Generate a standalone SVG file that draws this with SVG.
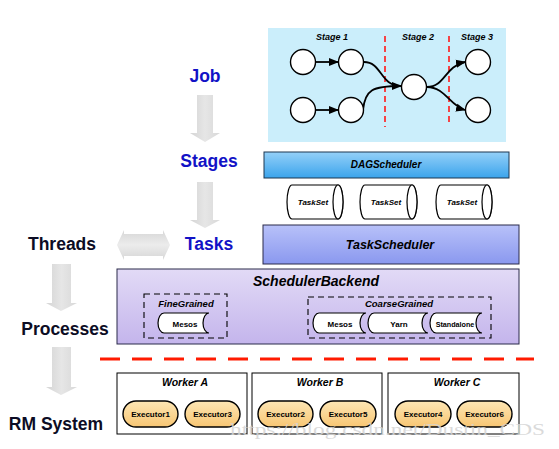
<svg xmlns="http://www.w3.org/2000/svg" width="559" height="449" viewBox="0 0 559 449">
<defs>
<linearGradient id="gDag" x1="0" y1="0" x2="0" y2="1"><stop offset="0" stop-color="#94d0f8"/><stop offset="1" stop-color="#3ba4ec"/></linearGradient>
<linearGradient id="gTs" x1="0" y1="0" x2="0" y2="1"><stop offset="0" stop-color="#b8c1f9"/><stop offset="1" stop-color="#8a98ef"/></linearGradient>
<linearGradient id="gSb" x1="0" y1="0" x2="0" y2="1"><stop offset="0" stop-color="#e2daf6"/><stop offset="1" stop-color="#c4b5ec"/></linearGradient>
<linearGradient id="gEx" x1="0" y1="0" x2="0" y2="1"><stop offset="0" stop-color="#fde6b4"/><stop offset="1" stop-color="#f8c673"/></linearGradient>
<linearGradient id="gAr" x1="0" y1="0" x2="1" y2="0"><stop offset="0" stop-color="#d4d4d4"/><stop offset="0.5" stop-color="#e6e6e6"/><stop offset="1" stop-color="#d8d8d8"/></linearGradient>
<linearGradient id="gArV" x1="0" y1="0" x2="0" y2="1"><stop offset="0" stop-color="#d6d6d6"/><stop offset="0.5" stop-color="#ececec"/><stop offset="1" stop-color="#d6d6d6"/></linearGradient>
<marker id="ah2" viewBox="0 0 10 10" refX="9" refY="5" markerWidth="10" markerHeight="10" orient="auto" markerUnits="userSpaceOnUse"><path d="M0,1 L10,5 L0,9 Z" fill="#000"/></marker>
</defs>
<style>
text{font-family:"Liberation Sans",Arial,sans-serif;font-weight:bold;text-anchor:middle;fill:#000}
.bi{font-style:italic}
.lblue{font-size:17.5px;fill:#1212c6}
.lblack{font-size:17.5px;fill:#0c0c24}
.circ{fill:#fff;stroke:#000;stroke-width:1.4}
.edge{fill:none;stroke:#000;stroke-width:1.8}
.cyl{fill:#fff;stroke:#000;stroke-width:1.2}
.sd{fill:#fff;stroke:#000;stroke-width:1.2}
.dash{fill:none;stroke:#000;stroke-width:1.1;stroke-dasharray:6,4}
.wk{fill:#fff;stroke:#000;stroke-width:1}
.ex{fill:url(#gEx);stroke:#000;stroke-width:1.4}
.garrow{fill:url(#gAr)}
</style>

<!-- left labels -->
<g id="label-job"><text class="lblue" x="205" y="82">Job</text></g>
<g id="label-stages"><text class="lblue" x="209" y="167">Stages</text></g>
<g id="label-tasks"><text class="lblue" x="209" y="250">Tasks</text></g>
<g id="label-threads"><text class="lblack" x="62" y="250">Threads</text></g>
<g id="label-processes"><text class="lblack" x="65" y="335">Processes</text></g>
<g id="label-rm"><text class="lblack" x="56" y="430">RM System</text></g>

<!-- gray block arrows -->
<g id="gray-arrows">
<polygon class="garrow" points="197,95 213,95 213,133 220,133 205,142 190,133 197,133"/>
<polygon class="garrow" points="197,182 213,182 213,220 220,220 205,228 190,220 197,220"/>
<polygon class="garrow" points="52,264 71,264 71,303 77,303 61,311 46,303 52,303"/>
<polygon class="garrow" points="52,347 71,347 71,387 77,387 61,395 46,387 52,387"/>
<polygon fill="url(#gArV)" points="117,245 124,230 124,234 163,234 163,230 170,245 163,260 163,256 124,256 124,260"/>
</g>

<!-- top job/stage panel -->
<g id="stage-panel">
<rect x="268" y="28" width="238" height="114" fill="#cbeefb"/>
<text class="bi" x="332" y="40" font-size="9">Stage 1</text>
<text class="bi" x="418" y="40" font-size="9">Stage 2</text>
<text class="bi" x="477" y="40" font-size="9">Stage 3</text>
<line x1="385" y1="36" x2="385" y2="127" stroke="#ff1a1a" stroke-width="1.6" stroke-dasharray="6,4"/>
<line x1="449" y1="36" x2="449" y2="124" stroke="#ff1a1a" stroke-width="1.6" stroke-dasharray="6,4"/>
</g>
<g id="connectors">
<line class="edge" x1="315.5" y1="62" x2="338" y2="62" marker-end="url(#ah2)"/>
<line class="edge" x1="315.5" y1="110" x2="338" y2="110" marker-end="url(#ah2)"/>
<path class="edge" d="M364,62 C382,62 380,86 401,86" marker-end="url(#ah2)"/>
<path class="edge" d="M363,110 C365,90 372,86 401,86"/>
<path class="edge" d="M427,87 C445,87 445,66 465,62" marker-end="url(#ah2)"/>
<path class="edge" d="M427,87 C445,87 450,106 465,110" marker-end="url(#ah2)"/>
</g>
<g id="n1"><circle class="circ" cx="303" cy="62" r="12.5"/></g>
<g id="n2"><circle class="circ" cx="351" cy="62" r="12.5"/></g>
<g id="n3"><circle class="circ" cx="303" cy="110" r="12.5"/></g>
<g id="n4"><circle class="circ" cx="351" cy="110" r="12.5"/></g>
<g id="n5"><circle class="circ" cx="414" cy="87" r="12.5"/></g>
<g id="n6"><circle class="circ" cx="478" cy="62" r="12.5"/></g>
<g id="n7"><circle class="circ" cx="478" cy="110" r="12.5"/></g>

<!-- DAGScheduler -->
<g id="dagscheduler">
<rect x="264" y="152" width="245" height="26" fill="url(#gDag)" stroke="#1d3650" stroke-width="1"/>
<text class="bi" x="386" y="168" font-size="10">DAGScheduler</text>
</g>

<!-- TaskSets -->
<g id="taskset1">
<path class="cyl" d="M292,185 L338,185 A5,17 0 0 1 338,219 L292,219 A5,17 0 0 1 292,185 Z"/>
<ellipse class="cyl" cx="338" cy="202" rx="5" ry="17"/>
<text class="bi" x="313" y="205" font-size="8">TaskSet</text>
</g>
<g id="taskset2">
<path class="cyl" d="M365,185 L412,185 A5,17 0 0 1 412,219 L365,219 A5,17 0 0 1 365,185 Z"/>
<ellipse class="cyl" cx="412" cy="202" rx="5" ry="17"/>
<text class="bi" x="386" y="205" font-size="8">TaskSet</text>
</g>
<g id="taskset3">
<path class="cyl" d="M441,185 L487,185 A5,17 0 0 1 487,219 L441,219 A5,17 0 0 1 441,185 Z"/>
<ellipse class="cyl" cx="487" cy="202" rx="5" ry="17"/>
<text class="bi" x="462" y="205" font-size="8">TaskSet</text>
</g>

<!-- TaskScheduler -->
<g id="taskscheduler">
<rect x="263" y="225" width="256" height="39" fill="url(#gTs)" stroke="#2a2a4a" stroke-width="1"/>
<text class="bi" x="390" y="249" font-size="12.5">TaskScheduler</text>
</g>

<!-- SchedulerBackend -->
<g id="schedulerbackend">
<rect x="117" y="269" width="402" height="75" fill="url(#gSb)" stroke="#2a2a4a" stroke-width="1"/>
<text class="bi" x="316" y="286" font-size="14">SchedulerBackend</text>
</g>
<g id="finegrained">
<rect class="dash" x="144" y="294" width="83" height="44"/>
<text class="bi" x="186" y="307" font-size="9.5">FineGrained</text>
</g>
<g id="fg-mesos">
<path class="sd" d="M164,313 L209,313 A6,10 0 0 0 209,333 L164,333 A6,10 0 0 1 164,313 Z"/>
<text x="185" y="327" font-size="8">Mesos</text>
</g>
<g id="coarsegrained">
<rect class="dash" x="308" y="297" width="183" height="41"/>
<text class="bi" x="399" y="307" font-size="9.5">CoarseGrained</text>
</g>
<g id="cg-mesos">
<path class="sd" d="M319,313 L366,313 A6,10 0 0 0 366,333 L319,333 A6,10 0 0 1 319,313 Z"/>
<text x="340" y="327" font-size="8">Mesos</text>
</g>
<g id="cg-yarn">
<path class="sd" d="M374,313 L428,313 A6,10 0 0 0 428,333 L374,333 A6,10 0 0 1 374,313 Z"/>
<text x="399" y="327" font-size="8">Yarn</text>
</g>
<g id="cg-standalone">
<path class="sd" d="M436,313 L482,313 A6,10 0 0 0 482,333 L436,333 A6,10 0 0 1 436,313 Z"/>
<text x="455" y="327" font-size="7.2">Standalone</text>
</g>

<!-- red separator -->
<line x1="100" y1="359" x2="534" y2="359" stroke="#ff1a00" stroke-width="3" stroke-dasharray="20,12"/>

<!-- workers -->
<g id="worker-a">
<rect class="wk" x="117" y="373" width="130" height="61"/>
<text class="bi" x="185" y="386" font-size="10.5">Worker A</text>
</g>
<g id="worker-b">
<rect class="wk" x="252" y="373" width="130" height="61"/>
<text class="bi" x="320" y="386" font-size="10.5">Worker B</text>
</g>
<g id="worker-c">
<rect class="wk" x="388" y="373" width="131" height="61"/>
<text class="bi" x="457" y="386" font-size="10.5">Worker C</text>
</g>
<g id="executor1"><rect class="ex" x="123" y="401" width="55" height="26" rx="13"/><text x="150.5" y="417" font-size="8">Executor1</text></g>
<g id="executor3"><rect class="ex" x="185" y="401" width="55" height="26" rx="13"/><text x="212.5" y="417" font-size="8">Executor3</text></g>
<g id="executor2"><rect class="ex" x="258" y="401" width="55" height="26" rx="13"/><text x="285.5" y="417" font-size="8">Executor2</text></g>
<g id="executor5"><rect class="ex" x="320" y="401" width="56" height="26" rx="13"/><text x="348" y="417" font-size="8">Executor5</text></g>
<g id="executor4"><rect class="ex" x="395" y="401" width="56" height="26" rx="13"/><text x="423" y="417" font-size="8">Executor4</text></g>
<g id="executor6"><rect class="ex" x="457" y="401" width="55" height="26" rx="13"/><text x="484.5" y="417" font-size="8">Executor6</text></g>

<!-- watermark -->
<text x="230" y="435" font-size="16" textLength="315" lengthAdjust="spacingAndGlyphs" style="font-family:'Liberation Serif',serif;font-weight:normal;fill:#d4d4d4;fill-opacity:0.85;text-anchor:start">https://blog.csdn.net/Dustin_CDS</text>
</svg>
